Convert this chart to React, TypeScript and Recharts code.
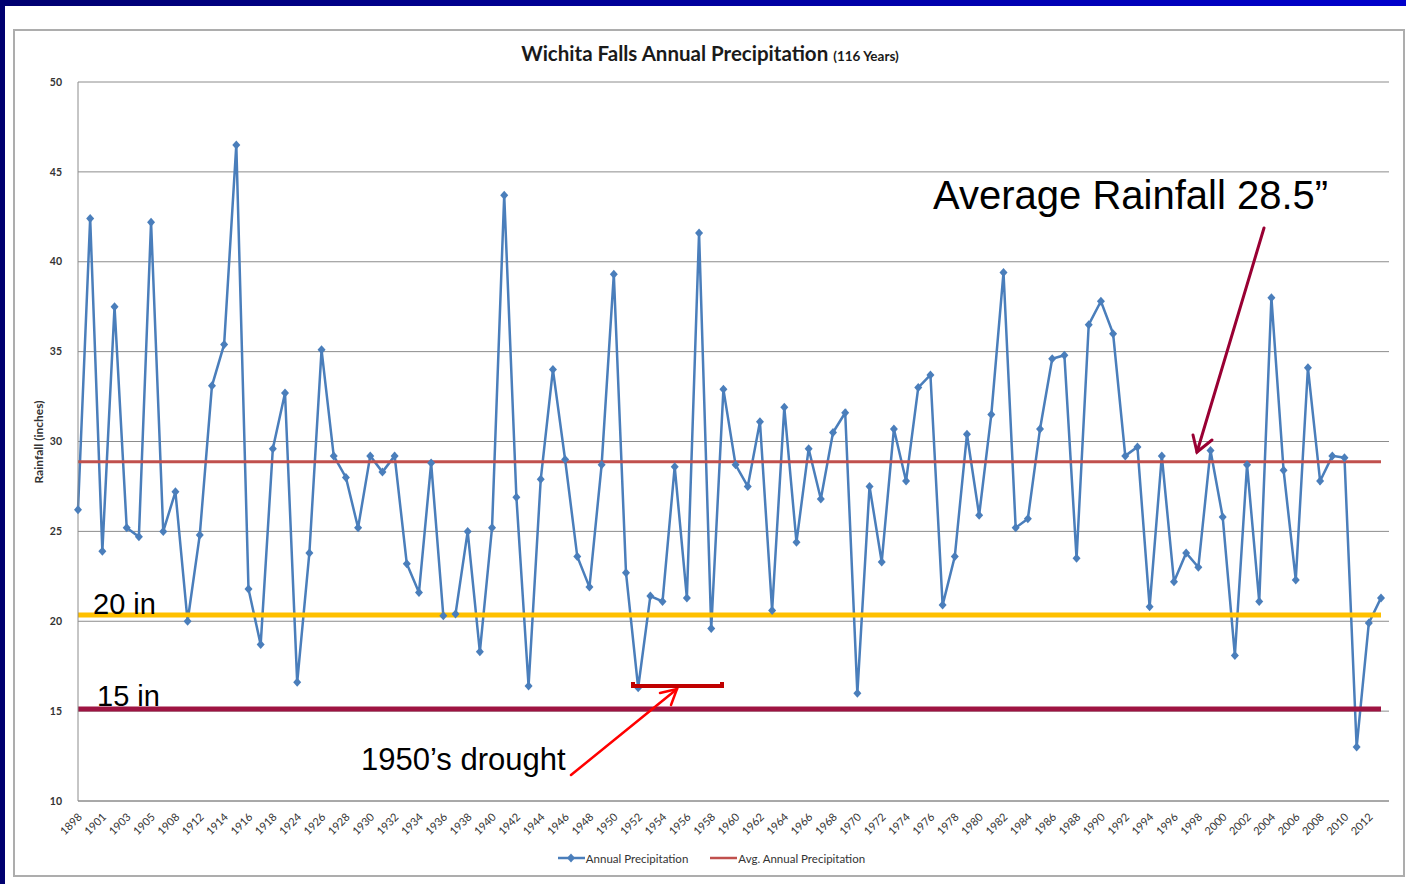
import React from 'react';
import { LineChart, Line, XAxis, YAxis, CartesianGrid, ReferenceLine, Legend } from 'recharts';

// categories (only every other one gets a label on the axis)
const YEARS = [
  '1898', '1899', '1901', '1902', '1903', '1904', '1905', '1906', '1908', '1909',
  '1912', '1913', '1914', '1915', '1916', '1917', '1918', '1919', '1924', '1925',
  '1926', '1927', '1928', '1929', '1930', '1931', '1932', '1933', '1934', '1935',
  '1936', '1937', '1938', '1939', '1940', '1941', '1942', '1943', '1944', '1945',
  '1946', '1947', '1948', '1949', '1950', '1951', '1952', '1953', '1954', '1955',
  '1956', '1957', '1958', '1959', '1960', '1961', '1962', '1963', '1964', '1965',
  '1966', '1967', '1968', '1969', '1970', '1971', '1972', '1973', '1974', '1975',
  '1976', '1977', '1978', '1979', '1980', '1981', '1982', '1983', '1984', '1985',
  '1986', '1987', '1988', '1989', '1990', '1991', '1992', '1993', '1994', '1995',
  '1996', '1997', '1998', '1999', '2000', '2001', '2002', '2003', '2004', '2005',
  '2006', '2007', '2008', '2009', '2010', '2011', '2012', '2013',
];

// annual precipitation, inches
const PRECIP = [
  26.2, 42.4, 23.9, 37.5, 25.2, 24.7, 42.2, 25.0, 27.2, 20.0,
  24.8, 33.1, 35.4, 46.5, 21.8, 18.7, 29.6, 32.7, 16.6, 23.8,
  35.1, 29.2, 28.0, 25.2, 29.2, 28.3, 29.2, 23.2, 21.6, 28.8,
  20.3, 20.4, 25.0, 18.3, 25.2, 43.7, 26.9, 16.4, 27.9, 34.0,
  29.0, 23.6, 21.9, 28.7, 39.3, 22.7, 16.3, 21.4, 21.1, 28.6,
  21.3, 41.6, 19.6, 32.9, 28.7, 27.5, 31.1, 20.6, 31.9, 24.4,
  29.6, 26.8, 30.5, 31.6, 16.0, 27.5, 23.3, 30.7, 27.8, 33.0,
  33.7, 20.9, 23.6, 30.4, 25.9, 31.5, 39.4, 25.2, 25.7, 30.7,
  34.6, 34.8, 23.5, 36.5, 37.8, 36.0, 29.2, 29.7, 20.8, 29.2,
  22.2, 23.8, 23.0, 29.5, 25.8, 18.1, 28.7, 21.1, 38.0, 28.4,
  22.3, 34.1, 27.8, 29.2, 29.1, 13.0, 19.9, 21.3,
];

const Y_TICKS = [10, 15, 20, 25, 30, 35, 40, 45, 50];
const AVG_LINE = 28.87;
const LINE_20 = 20.35;
const LINE_15 = 15.12;

const data = YEARS.map((year, i) => ({ year, precip: PRECIP[i] }));
const FIRST = YEARS[0];
const LAST = YEARS[YEARS.length - 1];

const FONT = "Lato, 'DejaVu Sans Condensed', sans-serif";
const ARIAL = "'Liberation Sans', Arial, sans-serif";
const BLUE = '#4A7EBB';
const RED = '#C0504D';
const GOLD = '#FFC000';
const MAROON = '#9E1442';
const AXIS = '#333333';

const Diamond = (props: any) => {
  const { cx, cy, index } = props;
  if (cx == null || cy == null) return null;
  return (
    <polygon
      key={`dot-${index}`}
      points={`${cx},${cy - 4.5} ${cx + 4},${cy} ${cx},${cy + 4.5} ${cx - 4},${cy}`}
      fill={BLUE}
    />
  );
};

const YearTick = (props: any) => {
  const { x, y, payload } = props;
  return (
    <g transform={`translate(${x + 2},${y + 14}) rotate(-45)`}>
      <text textAnchor="end" dy="0.35em" fontSize={11} fill={AXIS} fontFamily={FONT}>
        {payload.value}
      </text>
    </g>
  );
};

const LegendBox = () => (
  <div
    style={{
      display: 'flex',
      justifyContent: 'center',
      alignItems: 'center',
      gap: 22,
      height: 24,
      paddingRight: 14,
      fontFamily: FONT,
      fontSize: 11.5,
      color: AXIS,
    }}
  >
    <span style={{ display: 'flex', alignItems: 'center' }}>
      <svg width={28} height={10}>
        <line x1={0} y1={5} x2={27} y2={5} stroke={BLUE} strokeWidth={2.5} />
        <polygon points="13,0.5 17,5 13,9.5 9,5" fill={BLUE} />
      </svg>
      Annual Precipitation
    </span>
    <span style={{ display: 'flex', alignItems: 'center' }}>
      <svg width={28} height={10}>
        <line x1={0} y1={5} x2={27} y2={5} stroke={RED} strokeWidth={2.5} />
      </svg>
      Avg. Annual Precipitation
    </span>
  </div>
);

export default function App() {
  return (
    <div
      style={{
        position: 'absolute',
        left: 0,
        top: 0,
        width: 1406,
        height: 884,
        background: '#fff',
        overflow: 'hidden',
      }}
    >
      {/* slide background bits */}
      <div
        style={{
          position: 'absolute',
          left: 0,
          top: 0,
          width: 1406,
          height: 6,
          background: 'linear-gradient(to right, #000070, #0000CC)',
        }}
      />
      <div style={{ position: 'absolute', left: 0, top: 0, width: 5, height: 884, background: '#000070' }} />
      <div
        style={{
          position: 'absolute',
          left: 13,
          top: 29,
          width: 1392,
          height: 848,
          boxSizing: 'border-box',
          border: '2px solid #ADADAD',
        }}
      />

      <div style={{ position: 'absolute', left: 0, top: 0 }}>
        <LineChart width={1406} height={884} data={data} margin={{ top: 82, right: 17, left: 48, bottom: 14 }}>
          <CartesianGrid vertical={false} stroke="#8C8C8C" />
          <XAxis
            dataKey="year"
            interval={1}
            tickLine={false}
            tickSize={0}
            tickMargin={0}
            height={45}
            padding={{ left: 0, right: 8 }}
            axisLine={{ stroke: '#8C8C8C' }}
            tick={<YearTick />}
          />
          <YAxis
            domain={[10, 50]}
            ticks={Y_TICKS}
            width={30}
            tickLine={false}
            tickSize={0}
            tickMargin={16}
            axisLine={{ stroke: '#8C8C8C' }}
            tick={{ fontSize: 10.5, fontWeight: 'bold', fill: AXIS, fontFamily: FONT }}
          />
          <Line
            type="linear"
            dataKey="precip"
            name="Annual Precipitation"
            stroke={BLUE}
            strokeWidth={2.5}
            dot={Diamond}
            activeDot={false}
            isAnimationActive={false}
          />
          <ReferenceLine segment={[{ x: FIRST, y: AVG_LINE }, { x: LAST, y: AVG_LINE }]} stroke={RED} strokeWidth={3} />
          <ReferenceLine segment={[{ x: FIRST, y: LINE_20 }, { x: LAST, y: LINE_20 }]} stroke={GOLD} strokeWidth={5} />
          <ReferenceLine segment={[{ x: FIRST, y: LINE_15 }, { x: LAST, y: LINE_15 }]} stroke={MAROON} strokeWidth={5} />
          <Legend verticalAlign="bottom" height={24} content={<LegendBox />} />
        </LineChart>
      </div>

      <svg
        width={1406}
        height={884}
        style={{ position: 'absolute', left: 0, top: 0, pointerEvents: 'none' }}
      >
        <text x={710} y={61} textAnchor="middle" fill="#1a1a1a" fontFamily={FONT} fontWeight="bold">
          <tspan fontSize={20.5}>Wichita Falls Annual Precipitation</tspan>
          <tspan fontSize={13.5} dx={5}>(116 Years)</tspan>
        </text>
        <text
          transform="translate(43,442) rotate(-90)"
          textAnchor="middle"
          fontSize={12}
          fontWeight="bold"
          fill={AXIS}
          fontFamily={FONT}
        >
          Rainfall (inches)
        </text>

        <text x={933} y={209} fontSize={40} fontFamily={ARIAL} fill="#000">
          Average Rainfall 28.5”
        </text>
        <g stroke="#990033" strokeWidth={3} fill="none" strokeLinecap="round">
          <line x1={1264} y1={228} x2={1197} y2={452} />
          <polyline points="1193,435 1197,452 1212,440" />
        </g>

        <text x={93} y={614} fontSize={29} fontFamily={ARIAL} fill="#000">
          20 in
        </text>
        <text x={97} y={706} fontSize={29} fontFamily={ARIAL} fill="#000">
          15 in
        </text>

        <text x={361} y={770} fontSize={31} fontFamily={ARIAL} fill="#000">
          1950’s drought
        </text>
        <g stroke="#FF0000" strokeWidth={2.5} fill="none" strokeLinecap="round">
          <line x1={571} y1={775} x2={677} y2={689} />
          <polyline points="660,693 677,689 671,705" />
        </g>
        <g stroke="#C00000" strokeWidth={4} fill="none">
          <polyline points="633,682 633,686 722,686 722,682" />
        </g>
      </svg>
    </div>
  );
}
